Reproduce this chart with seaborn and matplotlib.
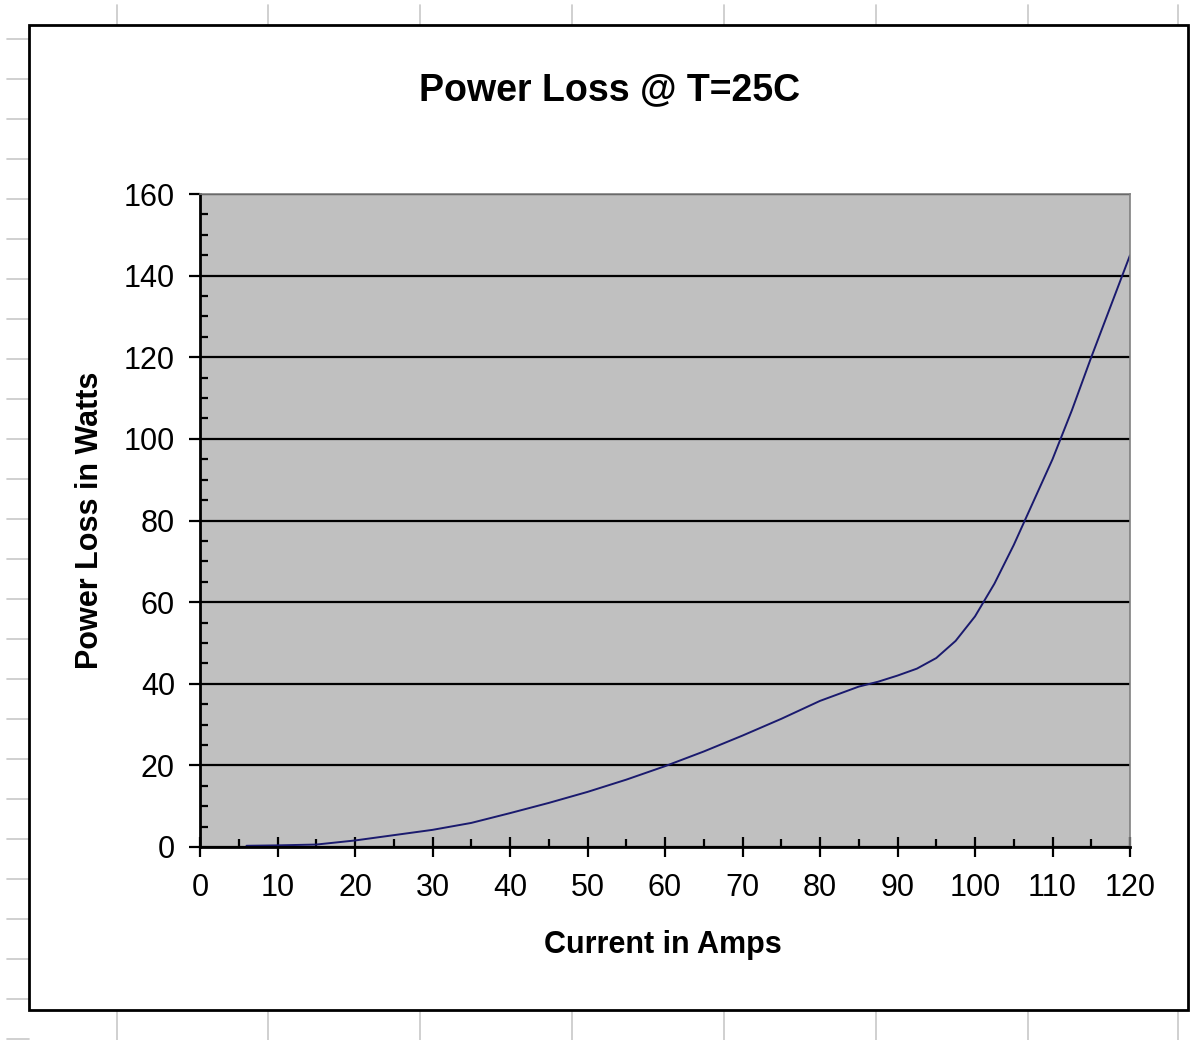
import matplotlib
matplotlib.use('Agg')
import matplotlib.pyplot as plt
from matplotlib.lines import Line2D
from matplotlib.patches import Rectangle
from matplotlib.ticker import MultipleLocator
import seaborn as sns

# values
current_amps = [6, 10, 15, 20, 25, 30, 35, 40, 45, 50, 55, 60, 65, 70, 75,
                80, 85, 87.5, 90, 92.5, 95, 97.5, 100, 102.5, 105, 107.5,
                110, 112.5, 115, 117.5, 120]
power_loss_w = [0.3, 0.4, 0.6, 1.6, 2.9, 4.2, 5.9, 8.3, 10.8, 13.5, 16.5, 19.8,
                23.4, 27.3, 31.4, 35.8, 39.3, 40.5, 42.0, 43.7, 46.3, 50.5,
                56.5, 64.5, 74.0, 84.5, 95.0, 107.0, 120.0, 132.5, 145.0]

title = 'Power Loss @ T=25C'
x_label = 'Current in Amps'
y_label = 'Power Loss in Watts'

sns.set_style('white')
fonts = ['Liberation Sans', 'DejaVu Sans']
plt.rcParams['font.family'] = fonts
plt.rcParams['text.color'] = 'black'
plt.rcParams['xtick.color'] = 'black'
plt.rcParams['ytick.color'] = 'black'

W, H = 1195, 1040
fig = plt.figure(figsize=(W / 100, H / 100), dpi=100)

# spreadsheet cell grid peeking around the chart object
for gx in [117, 268, 420, 572, 724, 876, 1028, 1178]:
    fig.add_artist(Line2D([gx / W, gx / W], [0, 1 - 5 / H], color='#c8c8c8', lw=1.2, zorder=-3))
for gy in range(39, H, 40):
    fig.add_artist(Line2D([7 / W, 29 / W], [1 - gy / H, 1 - gy / H], color='#c8c8c8', lw=1.2, zorder=-3))
fig.add_artist(Rectangle((29 / W, 1 - 1010 / H), (1188 - 29) / W, (1010 - 25) / H,
                         facecolor='white', edgecolor='black', lw=2, zorder=-1))

ax = fig.add_axes([200 / W, 1 - 847 / H, (1130 - 200) / W, (847 - 194) / H])
ax.set_facecolor('#c0c0c0')

sns.lineplot(x=current_amps, y=power_loss_w, color='#1a1a6e', linewidth=1.4, ax=ax)

ax.set_xlim(0, 120)
ax.set_ylim(0, 160)
ax.xaxis.set_major_locator(MultipleLocator(10))
ax.xaxis.set_minor_locator(MultipleLocator(5))
ax.yaxis.set_major_locator(MultipleLocator(20))
ax.yaxis.set_minor_locator(MultipleLocator(5))

ax.yaxis.grid(True, which='major', color='black', linewidth=1.6)
ax.xaxis.grid(False)
ax.set_axisbelow(True)

for side in ['left', 'bottom']:
    ax.spines[side].set_color('black')
    ax.spines[side].set_linewidth(2)
for side in ['top', 'right']:
    ax.spines[side].set_color('#808080')
    ax.spines[side].set_linewidth(1.2)

ax.tick_params(axis='x', which='major', direction='inout', length=14, width=1.6,
               color='black', pad=12, bottom=True)
ax.tick_params(axis='x', which='minor', direction='in', length=6, width=1.6,
               color='black', bottom=True)
ax.tick_params(axis='y', which='major', direction='out', length=8, width=1.6,
               color='black', pad=10, left=True)
ax.tick_params(axis='y', which='minor', direction='in', length=6, width=1.6,
               color='black', left=True)

for lab in ax.get_xticklabels() + ax.get_yticklabels():
    lab.set_fontsize(22)
    lab.set_color('black')

fig.text(610 / W, 1 - 90 / H, title, ha='center', va='center',
         fontsize=27, fontweight='bold', color='black')
fig.text(663 / W, 1 - 945 / H, x_label, ha='center', va='center',
         fontsize=22, fontweight='bold', color='black')
fig.text(90 / W, 1 - 520 / H, y_label, ha='center', va='center', rotation=90,
         fontsize=22, fontweight='bold', color='black')

fig.savefig('out.png', dpi=100)
